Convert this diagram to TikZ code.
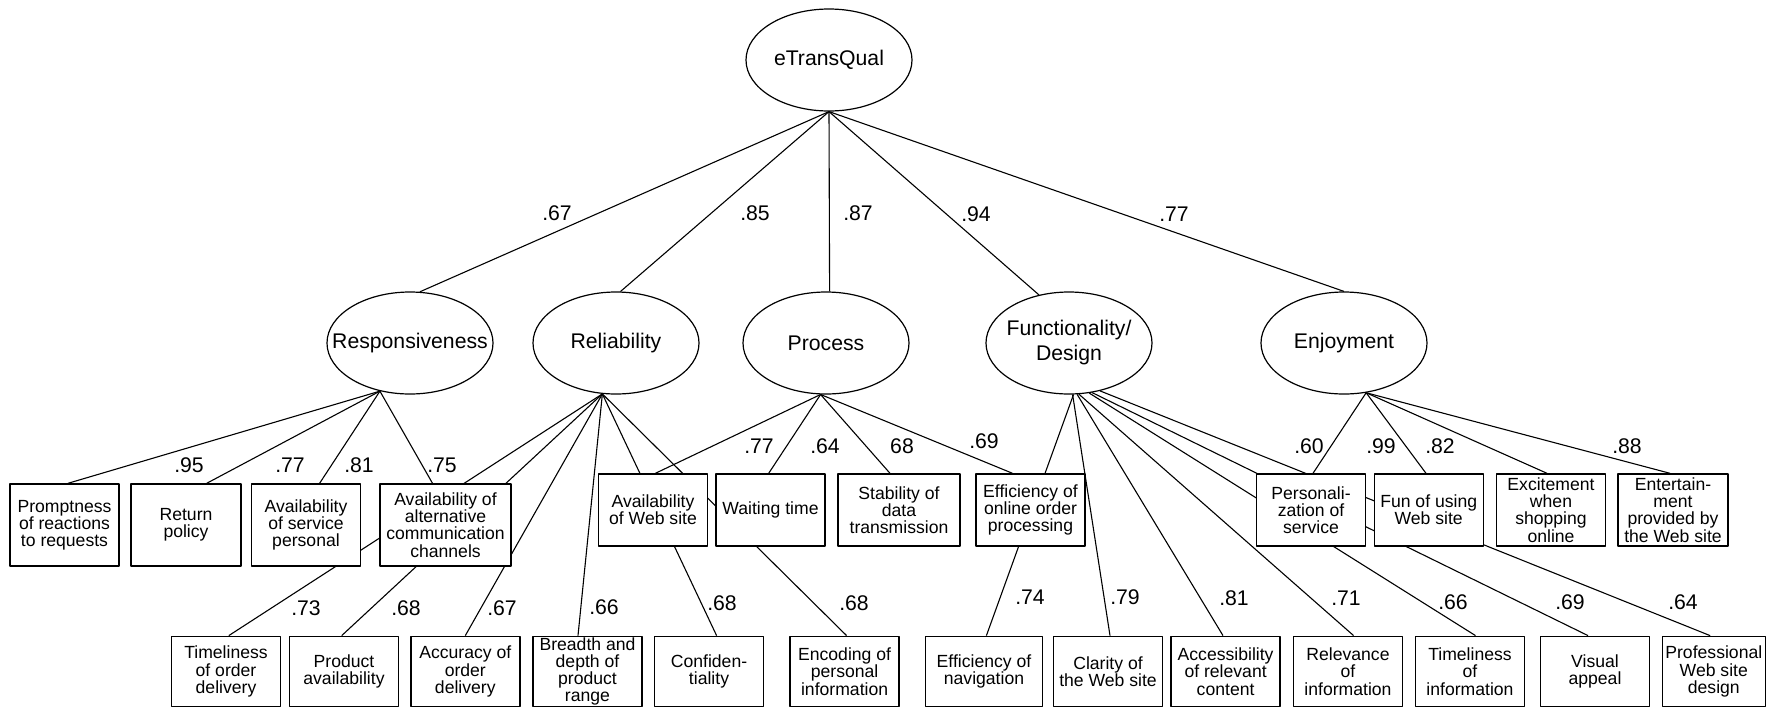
\documentclass[tikz,border=0pt]{standalone}
\usepackage{fontspec}
\setmainfont{Liberation Sans}
\usepackage{tikz}
\usetikzlibrary{shapes.geometric, calc, backgrounds}

\newcommand{\inell}[1]{\makebox[0pt]{#1}}

\begin{document}
\begin{tikzpicture}[
                x=0.5pt, y=-0.5pt,
                line join=bevel,
                factornode/.style={shape=ellipse, draw=black, fill=white, line width=0.6pt, minimum width=83pt, minimum height=51pt, inner sep=0pt, font=\fontsize{10.6}{12.5}\selectfont},
                itemnode/.style={shape=rectangle, draw=black, fill=white, line width=0.7pt, minimum width=54.5pt, inner xsep=1pt, inner ysep=0pt, align=center, font=\fontsize{8.8}{8.6}\selectfont},
                itemhigh/.style={itemnode, minimum height=41pt},
                itemmid/.style={itemnode, minimum height=36pt},
                itemlow/.style={itemnode, minimum height=35.2pt},
                loadlabel/.style={inner sep=0pt, font=\fontsize{10.6}{12}\selectfont},
                loadline/.style={line width=0.55pt}
                ]
                \useasboundingbox (0,0) rectangle (1767,708);

                %% Factors
                \node[factornode] (etq) at (829,60) {\inell{eTransQual}};
                \node[factornode] (resp) at (410,343) {\inell{Responsiveness}};
                \node[factornode] (reli) at (616,343) {\inell{Reliability}};
                \node[factornode] (proc) at (826,343) {\inell{Process}};
                \node[factornode] (func) at (1069,343) {\inell{\begin{tabular}{@{}c@{}}Functionality/\\Design\end{tabular}}};
                \node[factornode] (enjoy) at (1344,343) {\inell{Enjoyment}};

                %% Items, upper rows
                \node[itemhigh] (prompt) at (64.5,525) {Promptness\\of reactions\\to requests};
                \node[itemhigh, minimum width=55pt] (ret) at (186,525) {Return\\policy};
                \node[itemhigh] (servp) at (306,525) {Availability\\of service\\personal};
                \node[itemhigh, minimum width=65.5pt] (altc) at (445.5,525) {Availability of\\alternative\\communication\\channels};

                \node[itemmid] (webav) at (653,510) {Availability\\of Web site};
                \node[itemmid] (wait) at (770.5,510) {Waiting time};
                \node[itemmid, minimum width=61pt] (stab) at (899,510) {Stability of\\data\\transmission};
                \node[itemmid] (effo) at (1030.5,510) {Efficiency of\\online order\\processing};
                \node[itemmid] (pers) at (1311,510) {Personali-\\zation of\\service};
                \node[itemmid] (fun) at (1428.7,510) {Fun of using\\Web site};
                \node[itemmid] (excit) at (1551,510) {Excitement\\when\\shopping\\online};
                \node[itemmid, minimum width=55pt] (entert) at (1673,510) {Entertain-\\ment\\provided by\\the Web site};

                %% Items, lower row
                \node[itemlow] (timeo) at (226,671.5) {Timeliness\\of order\\delivery};
                \node[itemlow] (prodav) at (344,671.5) {Product\\availability};
                \node[itemlow] (accur) at (465.3,671.5) {Accuracy of\\order\\delivery};
                \node[itemlow] (breadth) at (587.5,671.5) {Breadth and\\depth of\\product\\range};
                \node[itemlow] (confid) at (709,671.5) {Confiden-\\tiality};
                \node[itemlow] (encod) at (844.6,671.5) {Encoding of\\personal\\information};
                \node[itemlow, minimum width=58.5pt] (effnav) at (984,671.5) {Efficiency of\\navigation};
                \node[itemlow] (clarity) at (1108,671.5) {Clarity of\\the Web site};
                \node[itemlow] (access) at (1225.6,671.5) {Accessibility\\of relevant\\content};
                \node[itemlow] (relev) at (1348,671.5) {Relevance\\of\\information};
                \node[itemlow] (timei) at (1470,671.5) {Timeliness\\of\\information};
                \node[itemlow] (visual) at (1595,671.5) {Visual\\appeal};
                \node[itemlow, minimum width=51.5pt] (profes) at (1713.8,671.5) {Professional\\Web site\\design};

                %% Draws
                \begin{pgfonlayer}{background}
                \draw[loadline] (etq.south) -- (resp.79);
                \draw[loadline] (etq.south) -- (reli.85);
                \draw[loadline] (etq.south) -- (proc.86);
                \draw[loadline] (etq.south) -- (func.122);
                \draw[loadline] (etq.south) -- (enjoy.90);

                \draw[loadline] (resp.238) -- ($(prompt.north)+(3.5,0)$);
                \draw[loadline] (resp.238) -- ($(ret.north)+(20.7,0)$);
                \draw[loadline] (resp.238) -- ($(servp.north)+(13.6,0)$);
                \draw[loadline] (resp.238) -- ($(altc.north)+(-13,0)$);

                \draw[loadline] (reli.255) -- ($(timeo.north)+(2.8,0)$);
                \draw[loadline] (reli.255) -- ($(prodav.north)+(-2.3,0)$);
                \draw[loadline] (reli.255) -- (accur.north);
                \draw[loadline] (reli.255) -- ($(breadth.north)+(-9.5,0)$);
                \draw[loadline] (reli.255) -- ($(confid.north)+(7.6,0)$);
                \draw[loadline] (reli.255) -- ($(encod.north)+(2,0)$);

                \draw[loadline] (proc.264) -- ($(webav.north)+(2.4,0)$);
                \draw[loadline] (proc.264) -- ($(wait.north)+(-1.8,0)$);
                \draw[loadline] (proc.264) -- ($(stab.north)+(-9,0)$);
                \draw[loadline] (proc.264) -- ($(effo.north)+(-18,0)$);

                \draw[loadline] (func.275) -- ($(effnav.north)+(2.4,0)$);
                \draw[loadline] (func.274) -- ($(clarity.north)+(2,0)$);
                \draw[loadline] (func.279) -- ($(access.north)+(-2.6,0)$);
                \draw[loadline] (func.281) -- ($(relev.north)+(5.6,0)$);
                \draw[loadline] (func.292) -- ($(timei.north)+(5.5,0)$);
                \draw[loadline] (func.295) -- ($(visual.north)+(-7,0)$);
                \draw[loadline] (func.303) -- ($(profes.north)+(-3.7,0)$);

                \draw[loadline] (enjoy.294) -- ($(pers.north)+(2,0)$);
                \draw[loadline] (enjoy.294) -- ($(fun.north)+(-2.7,0)$);
                \draw[loadline] (enjoy.294) -- ($(excit.north)+(-4,0)$);
                \draw[loadline] (enjoy.294) -- ($(entert.north)+(-3,0)$);
                \end{pgfonlayer}

                % Loadings
                \node[loadlabel] (lt1) at (557,213) {.67};
                \node[loadlabel] (lt2) at (755,213) {.85};
                \node[loadlabel] (lt3) at (858,213) {.87};
                \node[loadlabel] (lt4) at (976,214) {.94};
                \node[loadlabel] (lt5) at (1174,214) {.77};

                \node[loadlabel] (lr1) at (189,465) {.95};
                \node[loadlabel] (lr2) at (290,465) {.77};
                \node[loadlabel] (lr3) at (359,465) {.81};
                \node[loadlabel] (lr4) at (442,465) {.75};

                \node[loadlabel] (ll1) at (306,608) {.73};
                \node[loadlabel] (ll2) at (406,608) {.68};
                \node[loadlabel] (ll3) at (502,608) {.67};
                \node[loadlabel] (ll4) at (604,607) {.66};
                \node[loadlabel] (ll5) at (722,603) {.68};
                \node[loadlabel] (ll6) at (854,603) {.68};

                \node[loadlabel] (lp1) at (759,446) {.77};
                \node[loadlabel] (lp2) at (825,446) {.64};
                \node[loadlabel] (lp3) at (902,446) {68};
                \node[loadlabel] (lp4) at (984,441) {.69};

                \node[loadlabel] (lf1) at (1030,597) {.74};
                \node[loadlabel] (lf2) at (1125,597) {.79};
                \node[loadlabel] (lf3) at (1234,598) {.81};
                \node[loadlabel] (lf4) at (1346,598) {.71};
                \node[loadlabel] (lf5) at (1453,602) {.66};
                \node[loadlabel] (lf6) at (1570,602) {.69};
                \node[loadlabel] (lf7) at (1683,602) {.64};

                \node[loadlabel] (le1) at (1309,446) {.60};
                \node[loadlabel] (le2) at (1381,446) {.99};
                \node[loadlabel] (le3) at (1440,446) {.82};
                \node[loadlabel] (le4) at (1627,446) {.88};
\end{tikzpicture}
\end{document}
